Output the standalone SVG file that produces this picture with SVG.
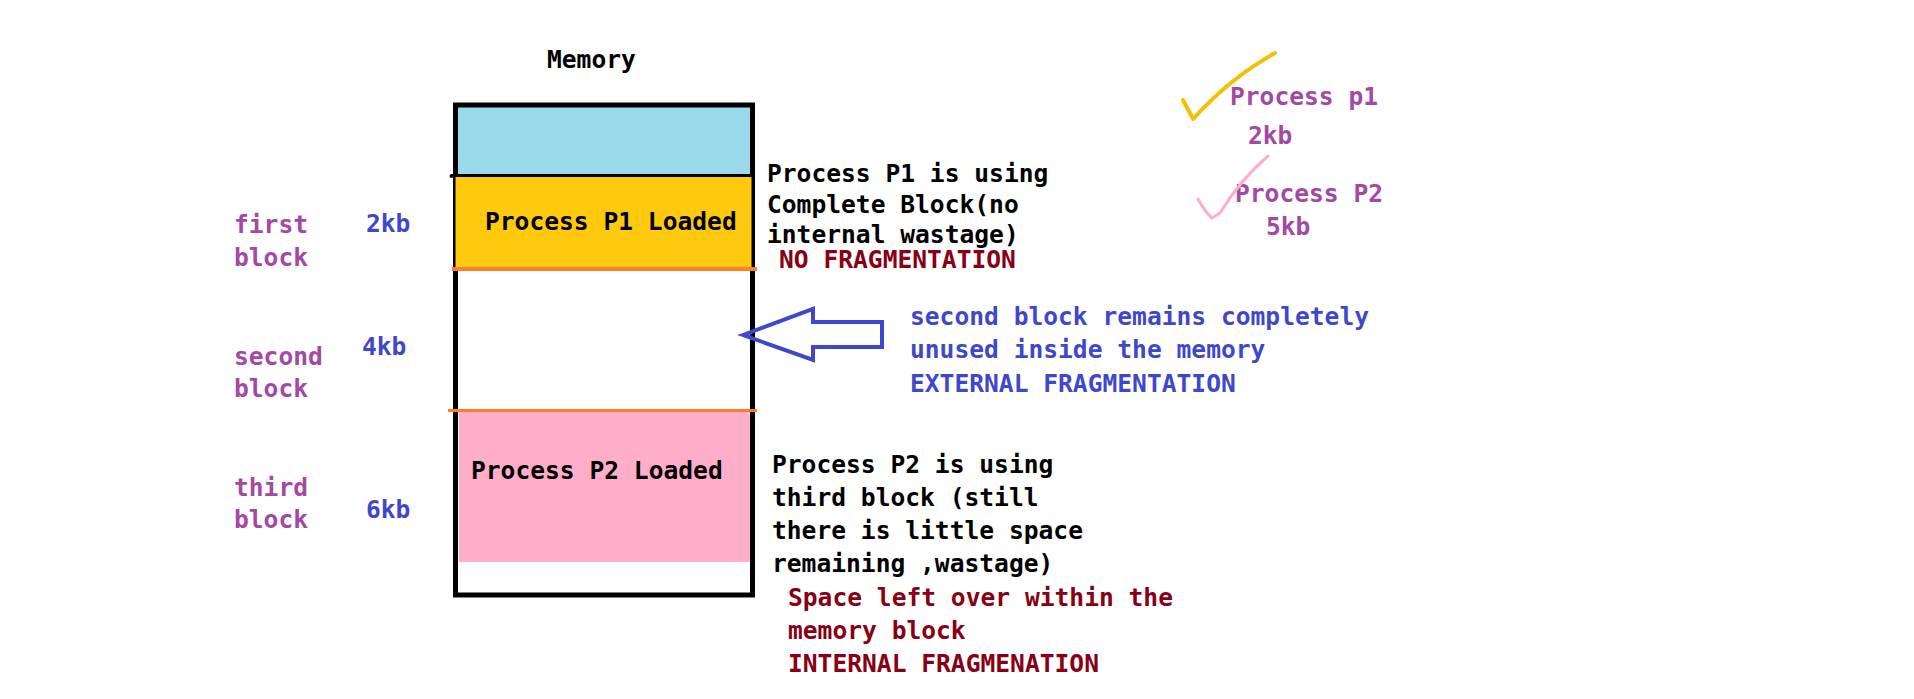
<svg xmlns="http://www.w3.org/2000/svg" width="1914" height="699" viewBox="0 0 1914 699">
<style>
text{font-family:"DejaVu Sans Mono","Liberation Mono",monospace;font-weight:bold;font-size:24.6px}
.k{fill:#000}
.p{fill:#A349A4}
.b{fill:#3F48CC}
.r{fill:#880015}
</style>
<rect width="1914" height="699" fill="#fff"/>
<g id="memory">
<text class="k" x="547" y="68">Memory</text>
<rect x="458" y="107" width="292" height="68" fill="#99D9EA"/>
<rect x="455.5" y="105" width="297" height="490" fill="none" stroke="#000" stroke-width="5"/>
<rect x="455.5" y="177" width="296" height="91" fill="#FFC90E"/>
<line x1="451" y1="175.5" x2="752" y2="175.5" stroke="#000" stroke-width="3"/>
<circle cx="451.5" cy="176" r="2" fill="#000"/>
<rect x="459" y="411" width="291" height="151" fill="#FFAEC9"/>
<line x1="452" y1="269" x2="757" y2="269" stroke="#FF7F27" stroke-width="4"/>
<line x1="448" y1="410.5" x2="757" y2="410.5" stroke="#FF7F27" stroke-width="3"/>
<text class="k" x="485" y="230">Process P1 Loaded</text>
<text class="k" x="471" y="479">Process P2 Loaded</text>
</g>
<g id="labels">
<text class="p" x="234" y="233">first</text>
<text class="p" x="234" y="266">block</text>
<text class="b" x="366" y="232">2kb</text>
<text class="p" x="234" y="365">second</text>
<text class="p" x="234" y="397">block</text>
<text class="b" x="362" y="355">4kb</text>
<text class="p" x="234" y="496">third</text>
<text class="p" x="234" y="528">block</text>
<text class="b" x="366" y="518">6kb</text>
</g>
<g id="note-p1">
<text class="k" x="767" y="182">Process P1 is using</text>
<text class="k" x="767" y="213">Complete Block(no</text>
<text class="k" x="767" y="243">internal wastage)</text>
<text class="r" x="779" y="268">NO FRAGMENTATION</text>
</g>
<g id="note-external">
<text class="b" x="910" y="325">second block remains completely</text>
<text class="b" x="910" y="358">unused inside the memory</text>
<text class="b" x="910" y="392">EXTERNAL FRAGMENTATION</text>
</g>
<g id="note-p2">
<text class="k" x="772" y="473">Process P2 is using</text>
<text class="k" x="772" y="506">third block (still</text>
<text class="k" x="772" y="539">there is little space</text>
<text class="k" x="772" y="572">remaining ,wastage)</text>
<text class="r" x="788" y="606">Space left over within the</text>
<text class="r" x="788" y="639">memory block</text>
<text class="r" x="788" y="672">INTERNAL FRAGMENATION</text>
</g>
<g id="legend">
<text class="p" x="1230" y="105">Process p1</text>
<text class="p" x="1248" y="144">2kb</text>
<text class="p" x="1235" y="202">Process P2</text>
<text class="p" x="1266" y="235">5kb</text>
<path d="M1183,100 L1193,119 Q1230,78 1275,53" fill="none" stroke="#F5C000" stroke-width="4" stroke-linecap="round" stroke-linejoin="round"/>
<path d="M1198,199 Q1205,212 1212,218 L1220,213 Q1240,180 1268,156" fill="none" stroke="#FFAEC9" stroke-width="3" stroke-linecap="round" stroke-linejoin="round"/>
</g>
<g id="connectors">
<polygon points="743,335 813,309 813,322 882,322 882,347 813,347 813,360" fill="none" stroke="#3F48CC" stroke-width="4" stroke-linejoin="miter"/>
</g>
</svg>
